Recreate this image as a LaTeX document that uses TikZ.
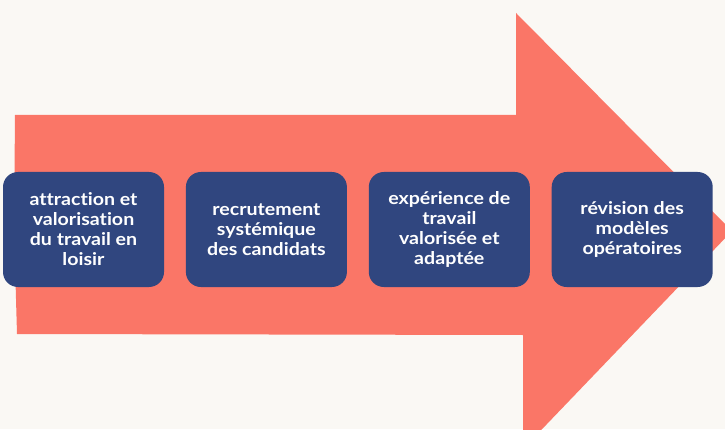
\documentclass[tikz,border=0pt]{standalone}
\usepackage{fontspec}
\setmainfont[RawFeature=-liga,FakeStretch=1.12]{Lato}
\usepackage{xcolor}
\usetikzlibrary{positioning}
\definecolor{fond}{HTML}{FAF8F4}
\definecolor{saumon}{HTML}{FA7667}
\definecolor{marine}{HTML}{30467F}
\tikzset{etape/.style={fill=marine,rounded corners=15pt,minimum width=161pt,minimum height=115pt,inner sep=0pt,text=white,align=center,font=\fontsize{17.5}{20}\selectfont\bfseries}}

\begin{document}
\begin{tikzpicture}[x=1pt,y=1pt]
\useasboundingbox (0,0) rectangle (725,429);
\fill[fond] (0,0) rectangle (725,429);
\clip (0,0) rectangle (725,429);
\fill[saumon] (15,314) -- (516,314) -- (516,416) -- (732,198) -- (523,-20) -- (523,94) -- (17,95) .. controls (14,200) .. (15,314) -- cycle;
\node[etape] (attraction) at (83.5,199.5) {attraction et\\valorisation\\du travail en\\loisir};
\node[etape,right=21.5pt of attraction] (recrutement) {recrutement\\systémique\\des candidats};
\node[etape,right=21.5pt of recrutement] (experience) {expérience de\\travail\\valorisée et\\adaptée};
\node[etape,right=21.5pt of experience] (revision) {révision des\\modèles\\opératoires};
\end{tikzpicture}
\end{document}
